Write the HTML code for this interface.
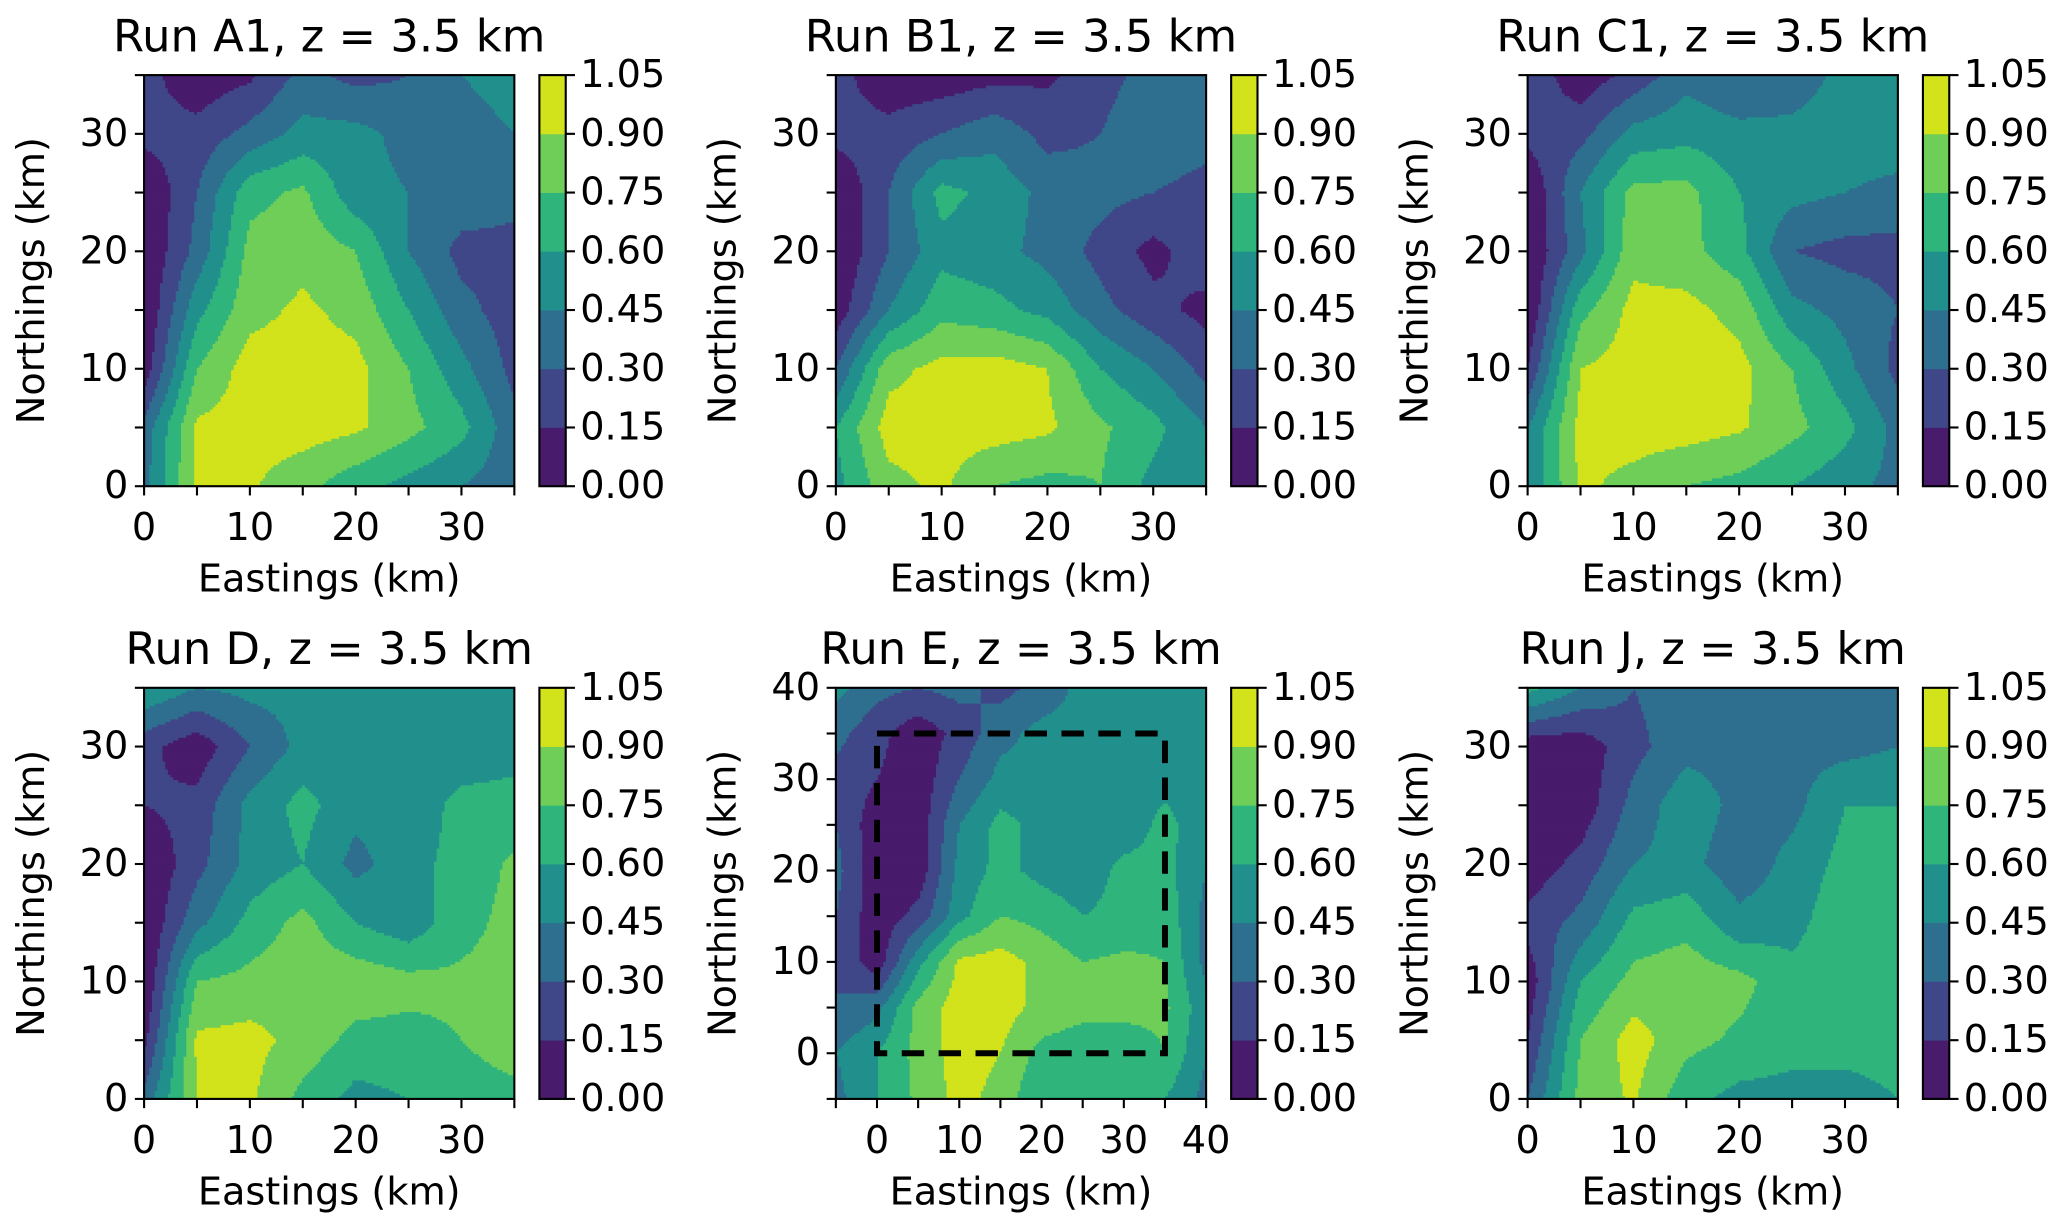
<!DOCTYPE html>
<html><head><meta charset="utf-8">
<style>
html,body{margin:0;padding:0;background:#fff;}
svg{display:block;}
text{font-family:"DejaVu Sans","Liberation Sans",sans-serif;fill:#000;}
</style></head>
<body>
<svg id="fig" width="2067" height="1232" viewBox="0 0 1568 935" xmlns="http://www.w3.org/2000/svg"></svg>
<script>
// ---- data ----
const levels = [0.00,0.15,0.30,0.45,0.60,0.75,0.90,1.05];
const levelLabels = ["0.00","0.15","0.30","0.45","0.60","0.75","0.90","1.05"];
const bandColors = ["#481b6d","#3f4788","#2e6e8e","#21908d","#2fb47c","#6ece58","#d2e21b"];
const gridX35 = [0,5,10,15,20,25,30,35];
const gridY35 = [35,30,25,20,15,10,5,0];
const gridXE = [-5,0,5,10,15,20,25,30,35,40];
const gridYE = [40,35,30,25,20,15,10,5,0,-5];
const ticks35 = [0,5,10,15,20,25,30,35];
const labels35 = [0,10,20,30];
const ticksE = [-5,0,5,10,15,20,25,30,35,40];
const labelsE = [0,10,20,30,40];
const runA1 = [
[0.2,0.05,0.12,0.35,0.25,0.3,0.45,0.5],
[0.2,0.2,0.35,0.5,0.5,0.4,0.4,0.45],
[0.0,0.3,0.7,0.78,0.5,0.45,0.4,0.35],
[0.0,0.35,0.8,0.85,0.75,0.45,0.25,0.25],
[0.0,0.55,0.85,0.93,0.85,0.6,0.35,0.22],
[0.05,0.75,0.97,0.97,0.95,0.75,0.5,0.25],
[0.35,0.93,0.97,0.97,0.93,0.8,0.65,0.35],
[0.4,0.93,0.92,0.8,0.65,0.55,0.45,0.35]];
const runB1 = [
[0.2,0.05,0.05,0.1,0.12,0.25,0.35,0.35],
[0.2,0.2,0.3,0.4,0.25,0.3,0.4,0.35],
[0.0,0.3,0.65,0.55,0.4,0.35,0.3,0.25],
[0.0,0.3,0.55,0.5,0.4,0.25,0.1,0.25],
[0.05,0.45,0.7,0.65,0.55,0.35,0.2,0.1],
[0.3,0.85,0.95,0.97,0.9,0.6,0.45,0.25],
[0.6,0.97,0.97,0.97,0.93,0.78,0.65,0.45],
[0.55,0.85,0.93,0.75,0.7,0.75,0.55,0.45]];
const runC1 = [
[0.25,0.05,0.2,0.4,0.3,0.35,0.5,0.5],
[0.2,0.25,0.5,0.55,0.5,0.5,0.55,0.55],
[0.0,0.45,0.8,0.8,0.6,0.5,0.45,0.4],
[0.0,0.4,0.85,0.8,0.65,0.3,0.25,0.25],
[0.0,0.7,0.95,0.95,0.85,0.5,0.4,0.3],
[0.15,0.9,0.97,0.97,0.95,0.75,0.5,0.25],
[0.45,0.95,0.97,0.97,0.92,0.8,0.65,0.4],
[0.45,0.93,0.85,0.75,0.7,0.6,0.5,0.4]];
const runD = [
[0.6,0.45,0.5,0.5,0.55,0.55,0.5,0.5],
[0.2,0.05,0.3,0.5,0.5,0.5,0.5,0.55],
[0.15,0.2,0.5,0.65,0.5,0.5,0.65,0.65],
[0.0,0.25,0.5,0.6,0.4,0.55,0.65,0.78],
[0.0,0.4,0.65,0.8,0.6,0.5,0.7,0.8],
[0.0,0.75,0.8,0.85,0.85,0.8,0.78,0.8],
[0.1,0.93,0.95,0.85,0.7,0.7,0.75,0.8],
[0.35,0.9,0.93,0.7,0.55,0.6,0.7,0.72]];
const runE = [
[0.5,0.35,0.3,0.35,0.25,0.35,0.5,0.5,0.5,0.5],
[0.35,0.2,0.05,0.2,0.4,0.5,0.5,0.5,0.5,0.5],
[0.25,0.15,0.05,0.3,0.5,0.5,0.5,0.5,0.55,0.5],
[0.3,0.05,0.05,0.45,0.65,0.55,0.5,0.5,0.65,0.5],
[0.35,0.05,0.05,0.5,0.65,0.55,0.5,0.65,0.65,0.45],
[0.3,0.05,0.2,0.55,0.75,0.7,0.6,0.65,0.7,0.4],
[0.3,0.05,0.55,0.93,0.97,0.85,0.75,0.78,0.75,0.4],
[0.3,0.4,0.8,0.97,0.97,0.85,0.8,0.8,0.78,0.5],
[0.45,0.6,0.8,0.97,0.9,0.7,0.65,0.65,0.75,0.45],
[0.4,0.6,0.78,0.95,0.85,0.6,0.6,0.6,0.6,0.4]];
const runJ = [
[0.65,0.45,0.3,0.4,0.4,0.4,0.4,0.4],
[0.05,0.05,0.25,0.4,0.4,0.4,0.4,0.45],
[0.05,0.05,0.35,0.55,0.4,0.4,0.6,0.6],
[0.05,0.2,0.45,0.5,0.35,0.5,0.65,0.7],
[0.2,0.35,0.65,0.7,0.5,0.55,0.7,0.7],
[0.05,0.6,0.8,0.85,0.8,0.65,0.7,0.7],
[0.15,0.75,0.97,0.8,0.72,0.65,0.65,0.65],
[0.3,0.8,0.92,0.65,0.55,0.55,0.55,0.6]];
const boxE = [0,0,35,35];

const NS="http://www.w3.org/2000/svg";
const fig=document.getElementById('fig');
function mk(tag,attrs,parent){const e=document.createElementNS(NS,tag);for(const k in attrs)e.setAttribute(k,attrs[k]);(parent||fig).appendChild(e);return e;}

function bandOf(v){let b=0;for(let i=1;i<levels.length-1;i++){if(v>=levels[i])b=i;}return b;}
function sample(grid,gx,gy,x,y){
  let i=0;while(i<gx.length-2&&x>gx[i+1])i++;
  let j=0;while(j<gy.length-2&&y<gy[j+1])j++;
  const tx=Math.min(1,Math.max(0,(x-gx[i])/(gx[i+1]-gx[i])));
  const ty=Math.min(1,Math.max(0,(gy[j]-y)/(gy[j]-gy[j+1])));
  const a=grid[j][i],b=grid[j][i+1],c=grid[j+1][i],d=grid[j+1][i+1];
  return a*(1-tx)*(1-ty)+b*tx*(1-ty)+c*(1-tx)*ty+d*tx*ty;
}

function panel(cfg){
  const {name,title,px,py,pw,ph,xmin,xmax,ymin,ymax,grid,gx,gy,ticks,labels}=cfg;
  const g=mk('g',{});
  
  
  const sx=v=>px+(v-xmin)/(xmax-xmin)*pw;
  const sy=v=>py+(ymax-v)/(ymax-ymin)*ph;
  const field=mk('g',{},g);
  
  
  const step=2;
  const nx=Math.ceil(pw/step);
  for(let yy=0;yy<ph;yy+=step){
    const h=Math.min(step,ph-yy);
    const dy=ymax-(yy+h/2)/ph*(ymax-ymin);
    let start=0,cur=-1;
    for(let k=0;k<=nx;k++){
      const xx=Math.min(k*step,pw);
      let b=-2;
      if(k<nx){const dx=xmin+(xx+step/2)/pw*(xmax-xmin);b=bandOf(sample(grid,gx,gy,dx,dy));}
      if(b!==cur){
        if(cur>=0){
          const r=mk('rect',{x:px+start,y:py+yy,width:xx-start+0.4,height:h+0.4,fill:bandColors[cur]},field);
          
          
        }
        start=xx;cur=b;
      }
    }
  }
  const fr=mk('rect',{x:px,y:py,width:pw,height:ph,fill:'none',stroke:'#000','stroke-width':1.6},g);
  
  
  ticks.forEach(t=>{
    const xl=mk('line',{x1:sx(t),x2:sx(t),y1:py+ph,y2:py+ph+7,stroke:'#000','stroke-width':1.6},g);
    
    
    const yl=mk('line',{x1:px-7,x2:px,y1:sy(t),y2:sy(t),stroke:'#000','stroke-width':1.6},g);
    
    
  });
  labels.forEach(t=>{
    const xt=mk('text',{x:sx(t),y:py+ph+41,'font-size':29,'text-anchor':'middle'},g);xt.textContent=t;
    
    
    const yt=mk('text',{x:px-12,y:sy(t),'font-size':29,'text-anchor':'end','dominant-baseline':'central'},g);yt.textContent=t;
    
    
  });
  const ti=mk('text',{x:px+pw/2,y:py-18,'font-size':34,'text-anchor':'middle'},g);ti.textContent=title;
  
  
  const xa=mk('text',{x:px+pw/2,y:py+ph+80,'font-size':29,'text-anchor':'middle'},g);xa.textContent='Eastings (km)';
  
  
  const ya=mk('text',{x:0,y:0,'font-size':29,'text-anchor':'middle',transform:`translate(${px-76},${py+ph/2}) rotate(-90)`},g);ya.textContent='Northings (km)';
  
  
  const cx=px+pw+19,cw=20;
  const cb=mk('g',{},g);
  
  
  const cy=v=>py+ph-(v-levels[0])/(levels[levels.length-1]-levels[0])*ph;
  bandColors.forEach((c,i)=>{
    const r=mk('rect',{x:cx,y:cy(levels[i+1]),width:cw,height:cy(levels[i])-cy(levels[i+1])+0.3,fill:c},cb);
    
    
  });
  mk('rect',{x:cx,y:py,width:cw,height:ph,fill:'none',stroke:'#000','stroke-width':1.6},cb);
  levels.forEach((v,i)=>{
    mk('line',{x1:cx+cw,x2:cx+cw+7,y1:cy(v),y2:cy(v),stroke:'#000','stroke-width':1.6},cb);
    const t=mk('text',{x:cx+cw+11,y:cy(v),'font-size':29,'dominant-baseline':'central'},cb);t.textContent=levelLabels[i];
    
    
  });
  return {sx,sy,g};
}

const row1=57,row2=522,W=281,H=312;
panel({name:'run-a1',title:'Run A1, z = 3.5 km',px:109,py:row1,pw:W,ph:H,xmin:0,xmax:35,ymin:0,ymax:35,grid:runA1,gx:gridX35,gy:gridY35,ticks:ticks35,labels:labels35});
panel({name:'run-b1',title:'Run B1, z = 3.5 km',px:634,py:row1,pw:W,ph:H,xmin:0,xmax:35,ymin:0,ymax:35,grid:runB1,gx:gridX35,gy:gridY35,ticks:ticks35,labels:labels35});
panel({name:'run-c1',title:'Run C1, z = 3.5 km',px:1159,py:row1,pw:W,ph:H,xmin:0,xmax:35,ymin:0,ymax:35,grid:runC1,gx:gridX35,gy:gridY35,ticks:ticks35,labels:labels35});
panel({name:'run-d',title:'Run D, z = 3.5 km',px:109,py:row2,pw:W,ph:H,xmin:0,xmax:35,ymin:0,ymax:35,grid:runD,gx:gridX35,gy:gridY35,ticks:ticks35,labels:labels35});
const pe=panel({name:'run-e',title:'Run E, z = 3.5 km',px:634,py:row2,pw:W,ph:H,xmin:-5,xmax:40,ymin:-5,ymax:40,grid:runE,gx:gridXE,gy:gridYE,ticks:ticksE,labels:labelsE});
panel({name:'run-j',title:'Run J, z = 3.5 km',px:1159,py:row2,pw:W,ph:H,xmin:0,xmax:35,ymin:0,ymax:35,grid:runJ,gx:gridX35,gy:gridY35,ticks:ticks35,labels:labels35});
const bx=mk('rect',{x:pe.sx(boxE[0]),y:pe.sy(boxE[3]),width:pe.sx(boxE[2])-pe.sx(boxE[0]),height:pe.sy(boxE[1])-pe.sy(boxE[3]),fill:'none',stroke:'#000','stroke-width':4.5,'stroke-dasharray':'17,11'},pe.g);


</script>
</body></html>
